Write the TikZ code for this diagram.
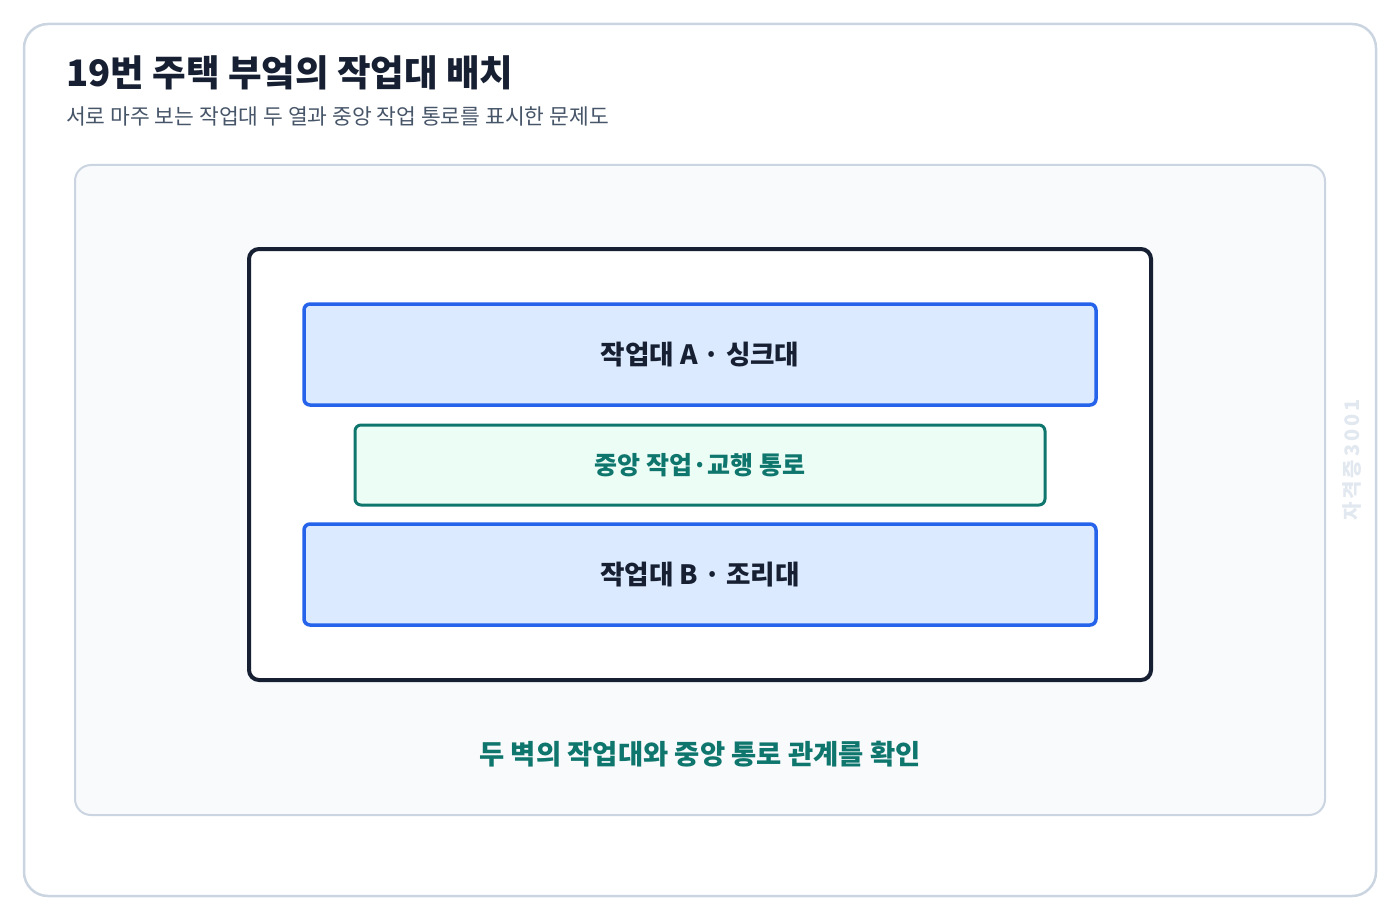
\documentclass[tikz,border=0pt]{standalone}
\usepackage{fontspec}
\setmainfont{Noto Sans CJK KR}
\definecolor{cardline}{HTML}{CBD5E1}
\definecolor{panelfill}{HTML}{F8FAFC}
\definecolor{ink}{HTML}{172033}
\definecolor{subink}{HTML}{475569}
\definecolor{benchfill}{HTML}{DBEAFE}
\definecolor{benchline}{HTML}{2563EB}
\definecolor{aislefill}{HTML}{ECFDF5}
\definecolor{aisleline}{HTML}{0F766E}
\definecolor{wmark}{HTML}{E2E8F0}
\tikzset{
  card/.style={draw=cardline, line width=2.5pt, fill=white, rounded corners=24pt},
  panel/.style={draw=cardline, line width=2pt, fill=panelfill, rounded corners=16pt},
  room/.style={draw=ink, line width=4pt, fill=white, rounded corners=10pt},
  bench/.style={draw=benchline, line width=3.5pt, fill=benchfill, rounded corners=6pt},
  aisle/.style={draw=aisleline, line width=3pt, fill=aislefill, rounded corners=6pt},
  benchlabel/.style={font=\fontsize{26.6pt}{30pt}\selectfont\bfseries, text=ink},
  aislelabel/.style={font=\fontsize{25pt}{29pt}\selectfont\bfseries, text=aisleline},
}
\begin{document}
\begin{tikzpicture}[x=1pt,y=-1pt]
\useasboundingbox (0,0) rectangle (1400,920);
\draw[card] (24,24) rectangle (1376,896);
\node[anchor=base west, inner sep=0pt, font=\fontsize{36.5pt}{42pt}\selectfont\bfseries, text=ink] (title) at (66,87) {19번 주택 부엌의 작업대 배치};
\node[anchor=base west, inner sep=0pt, font=\fontsize{21.5pt}{25pt}\selectfont, text=subink] (subtitle) at (66,125) {서로 마주 보는 작업대 두 열과 중앙 작업 통로를 표시한 문제도};
\draw[panel] (75,165) rectangle (1325,815);
\draw[room] (249,249) rectangle (1151,680);
\draw[bench] (304,304) rectangle (1096,405);
\node[benchlabel] (a) at (700,354.5) {작업대 A · 싱크대};
\draw[aisle] (355,425) rectangle (1045,505);
\node[aislelabel] (c) at (700,465) {중앙 작업·교행 통로};
\draw[bench] (304,524) rectangle (1096,625);
\node[benchlabel] (b) at (700,574.5) {작업대 B · 조리대};
\node[font=\fontsize{27.4pt}{31pt}\selectfont\bfseries, text=aisleline] (cap) at (700,754) {두 벽의 작업대와 중앙 통로 관계를 확인};
\node[rotate=90, font=\fontsize{20pt}{24pt}\selectfont\bfseries\addfontfeatures{LetterSpace=15}, text=wmark] (wm) at (1352,460) {자격증3001};
\end{tikzpicture}
\end{document}
